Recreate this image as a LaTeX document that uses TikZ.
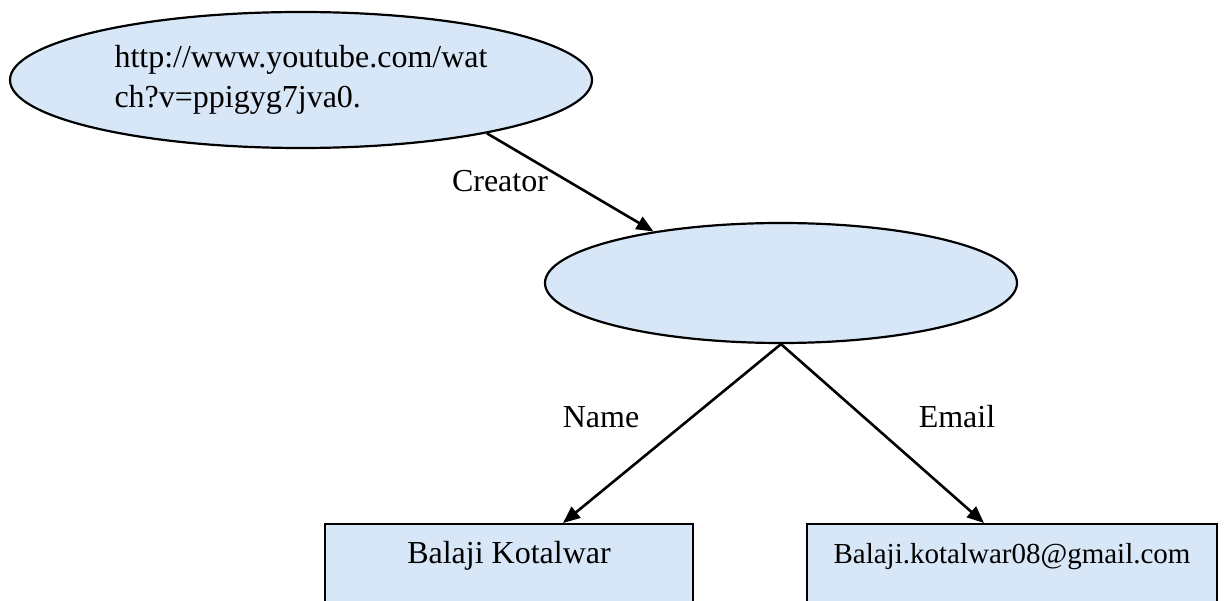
\documentclass[tikz,border=0pt]{standalone}
\usepackage{fontspec}
\setmainfont{Liberation Serif}
\usetikzlibrary{arrows.meta,shapes.geometric,calc}
\definecolor{bubble}{RGB}{216,231,247}
\begin{document}
\begin{tikzpicture}[x=1pt,y=-1pt,
  every node/.style={font=\fontsize{32}{40}\selectfont},
  bubblenode/.style={ellipse,draw=black,line width=2.2pt,fill=bubble,inner sep=0pt},
  boxnode/.style={rectangle,draw=black,line width=2.4pt,fill=bubble,inner sep=0pt,anchor=north,text height=39pt,text depth=100pt},
  edgelabel/.style={anchor=base,inner sep=0pt},
  conn/.style={line width=2.6pt,-{Triangle[length=17pt,width=14pt]}}]
\clip (0,0) rectangle (1224,601);
\node[bubblenode,minimum width=582pt,minimum height=136pt,align=left] (top) at (301,80)
  {http://www.youtube.com/wat\\ch?v=ppigyg7jva0.};
\node[bubblenode,minimum width=472pt,minimum height=120pt] (mid) at (781,283) {};
\node[boxnode,minimum width=368pt] (lb) at (509,523) {Balaji Kotalwar};
\node[boxnode,minimum width=410pt,font=\fontsize{29}{36}\selectfont] (rb) at (1012,523) {Balaji.kotalwar08@gmail.com};
\node[edgelabel] (lc) at (500,192) {Creator};
\node[edgelabel] (ln) at (601,428) {Name};
\node[edgelabel] (le) at (957,428) {Email};
\draw[conn] (top.-16.4) -- (mid.158);
\draw[conn] (mid.south) -- ([xshift=54pt]lb.north);
\draw[conn] (mid.south) -- ([xshift=-28pt]rb.north);
\end{tikzpicture}
\end{document}
